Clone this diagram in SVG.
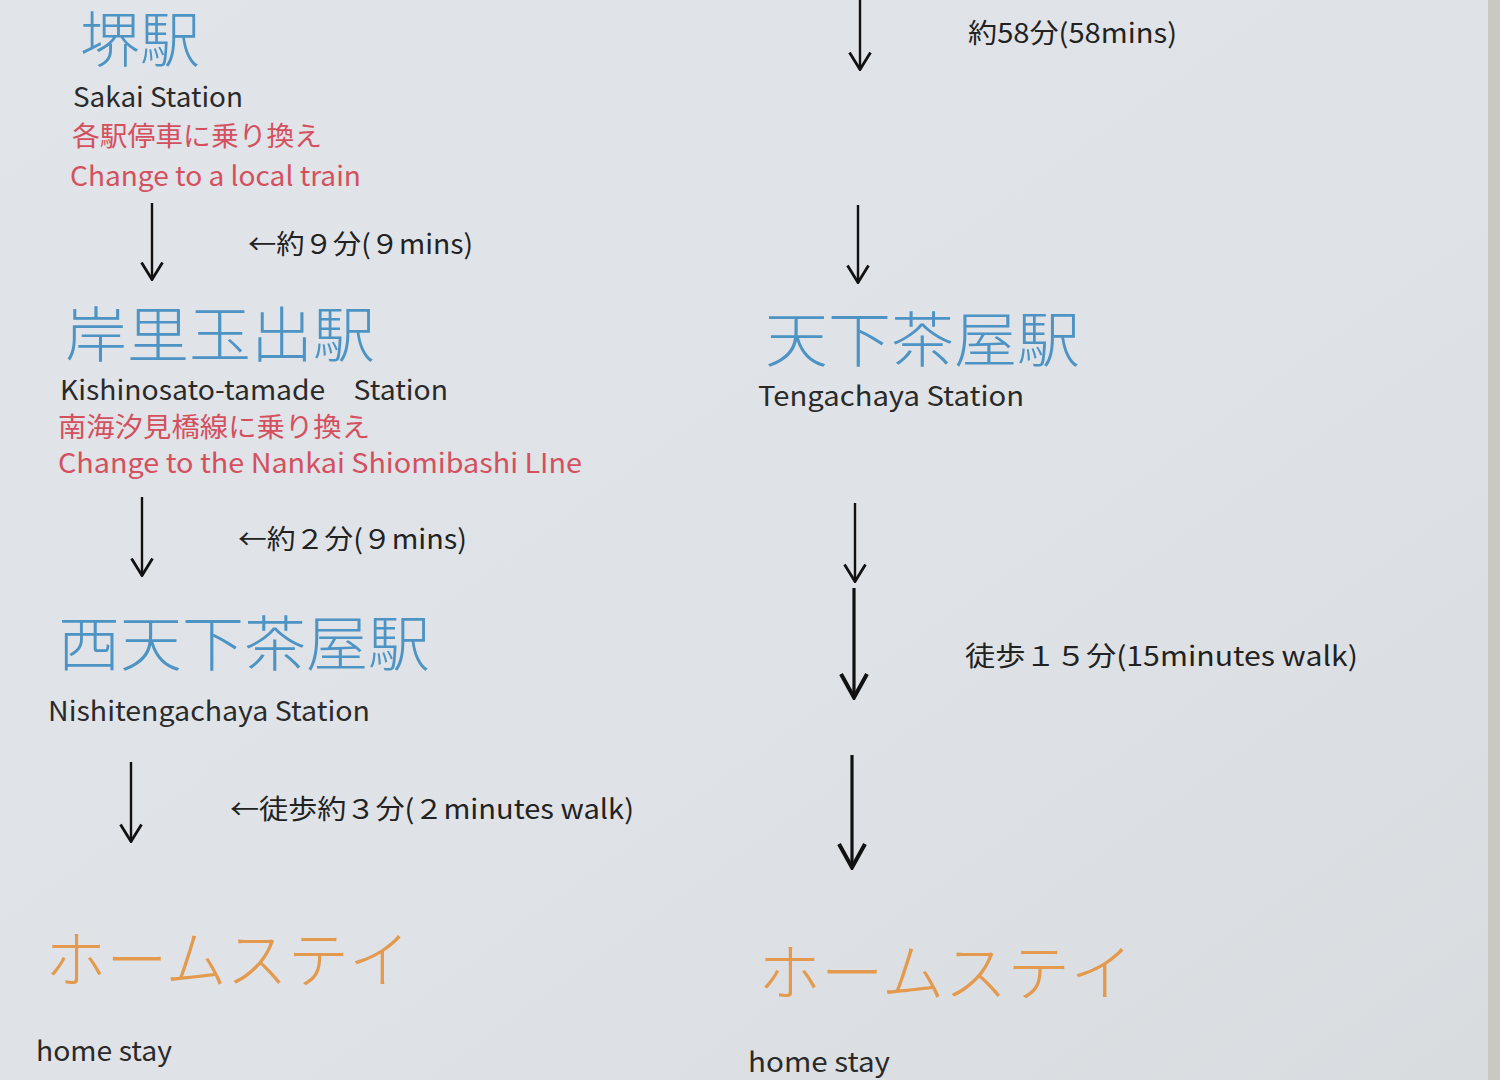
<svg xmlns="http://www.w3.org/2000/svg" width="1500" height="1080" viewBox="0 0 1500 1080">
<defs>
<linearGradient id="paper" x1="0" y1="0" x2="1" y2="1">
<stop offset="0" stop-color="#e1e4e9"/>
<stop offset="0.55" stop-color="#dfe2e6"/>
<stop offset="1" stop-color="#d9dcdf"/>
</linearGradient>
<marker id="ah" viewBox="0 0 20 24" refX="19" refY="12" markerWidth="20" markerHeight="24" markerUnits="userSpaceOnUse" orient="auto">
<path d="M1.5,1.5 L18.5,12 L1.5,22.5" fill="none" stroke="#111" stroke-width="2.8"/>
</marker>
<marker id="ahb" viewBox="0 0 28 30" refX="26" refY="15" markerWidth="28" markerHeight="30" markerUnits="userSpaceOnUse" orient="auto">
<path d="M2,2 L25.5,15 L2,28" fill="none" stroke="#111" stroke-width="4"/>
</marker>
</defs>
<style>
text{font-family:"Noto Sans CJK JP","Noto Sans",sans-serif;}
.jp{fill:#4d93c4;font-size:60px;font-weight:300;}
.en{fill:#2a2a2a;font-size:27px;}
.red{fill:#d4505f;font-size:27px;}
.note{fill:#222;font-size:27px;}
.home{fill:#e39a4e;font-size:62px;font-weight:300;}
.arr{stroke:#111;stroke-width:2.4;fill:none;marker-end:url(#ah);}
.arrb{stroke:#111;stroke-width:3.2;fill:none;marker-end:url(#ahb);}
</style>
<rect width="1500" height="1080" fill="url(#paper)"/>
<rect x="1488" y="0" width="12" height="1080" fill="#c9c9c2"/>

<g id="sakai">
<text class="jp" x="80" y="62" font-size="52" textLength="120" lengthAdjust="spacingAndGlyphs">堺駅</text>
<text class="en" x="73" y="107" textLength="170" lengthAdjust="spacingAndGlyphs">Sakai Station</text>
<text class="red" x="72" y="146" textLength="250" lengthAdjust="spacingAndGlyphs">各駅停車に乗り換え</text>
<text class="red" x="70" y="186" textLength="291" lengthAdjust="spacingAndGlyphs">Change to a local train</text>
</g>

<g id="kishinosato">
<text class="jp" x="65" y="357" font-size="58" textLength="310" lengthAdjust="spacingAndGlyphs">岸里玉出駅</text>
<text class="en" x="60" y="400" font-size="25" textLength="388" lengthAdjust="spacingAndGlyphs">Kishinosato-tamade　Station</text>
<text class="red" x="58" y="437" font-size="24" textLength="312" lengthAdjust="spacingAndGlyphs">南海汐見橋線に乗り換え</text>
<text class="red" x="58" y="473" textLength="524" lengthAdjust="spacingAndGlyphs">Change to the Nankai Shiomibashi LIne</text>
</g>

<g id="nishitengachaya">
<text class="jp" x="58" y="666" textLength="372" lengthAdjust="spacingAndGlyphs">西天下茶屋駅</text>
<text class="en" x="48" y="721" textLength="322" lengthAdjust="spacingAndGlyphs">Nishitengachaya Station</text>
</g>

<g id="homestay-left">
<text class="home" x="45" y="983" textLength="365" lengthAdjust="spacingAndGlyphs">ホームステイ</text>
<text class="en" x="36" y="1061" textLength="136" lengthAdjust="spacingAndGlyphs">home stay</text>
</g>

<g id="tengachaya">
<text class="jp" x="765" y="362" textLength="315" lengthAdjust="spacingAndGlyphs">天下茶屋駅</text>
<text class="en" x="758" y="406" font-size="26" textLength="266" lengthAdjust="spacingAndGlyphs">Tengachaya Station</text>
</g>

<g id="homestay-right">
<text class="home" x="758" y="996" textLength="375" lengthAdjust="spacingAndGlyphs">ホームステイ</text>
<text class="en" x="748" y="1072" textLength="142" lengthAdjust="spacingAndGlyphs">home stay</text>
</g>

<g id="connectors">
<line class="arr" x1="152" y1="203" x2="152" y2="280"/>
<line class="arr" x1="142" y1="497" x2="142" y2="576"/>
<line class="arr" x1="131" y1="762" x2="131" y2="842"/>
<line class="arr" x1="860" y1="0" x2="860" y2="70"/>
<line class="arr" x1="858" y1="205" x2="858" y2="283"/>
<line class="arr" x1="855" y1="503" x2="855" y2="582"/>
<line class="arrb" x1="854" y1="588" x2="854" y2="698"/>
<line class="arrb" x1="852" y1="755" x2="852" y2="868"/>
<text class="note" x="248" y="254" textLength="225" lengthAdjust="spacingAndGlyphs">←約９分(９mins)</text>
<text class="note" x="238" y="549" textLength="229" lengthAdjust="spacingAndGlyphs">←約２分(９mins)</text>
<text class="note" x="230" y="819" textLength="404" lengthAdjust="spacingAndGlyphs">←徒歩約３分(２minutes walk)</text>
<text class="note" x="968" y="43" textLength="209" lengthAdjust="spacingAndGlyphs">約58分(58mins)</text>
<text class="note" x="965" y="666" textLength="393" lengthAdjust="spacingAndGlyphs">徒歩１５分(15minutes walk)</text>
</g>
</svg>
